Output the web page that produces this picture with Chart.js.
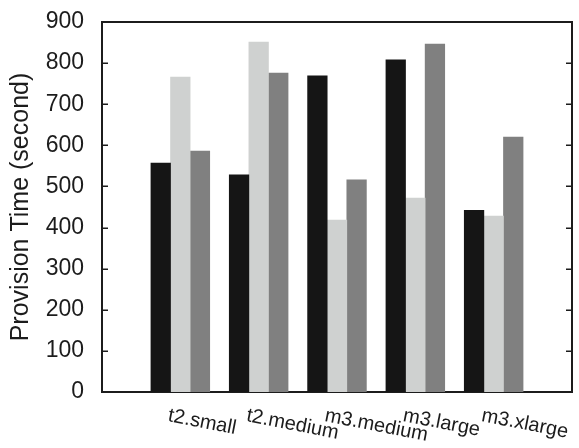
<!DOCTYPE html>
<html>
<head>
<meta charset="utf-8">
<script src="https://cdn.jsdelivr.net/npm/chart.js@4/dist/chart.umd.min.js"></script>
<style>
  html, body { margin: 0; padding: 0; background: #fff; }
  #wrap { width: 579px; height: 448px; }
</style>
</head>
<body>
<div id="wrap"><canvas id="c" width="579" height="448"></canvas></div>
<script>
// Instance types and provision times (seconds) for three runs
const categories = ['t2.small', 't2.medium', 'm3.medium', 'm3.large', 'm3.xlarge'];
const seriesA = [557, 528, 769, 808, 442];
const seriesB = [766, 851, 418, 472, 428];
const seriesC = [586, 776, 516, 846, 620];
const yTicks = [0, 100, 200, 300, 400, 500, 600, 700, 800, 900];

const FONT = 'Liberation Sans, Arial, Helvetica, sans-serif';
const INK = '#1c1c1c';

// one empty slot on each side of the groups
const labels = ['', ...categories, ''];
const pad = v => [null, ...v, null];

// slanted category labels under the axis
const slantLabels = {
  id: 'slantLabels',
  afterDraw(chart) {
    const xs = chart.scales.x;
    const ctx = chart.ctx;
    ctx.save();
    ctx.font = '20px ' + FONT;
    ctx.fillStyle = INK;
    ctx.textAlign = 'left';
    ctx.textBaseline = 'alphabetic';
    categories.forEach((name, i) => {
      const px = xs.getPixelForValue(i + 1);
      ctx.save();
      ctx.translate(px - 13, xs.top + 29);
      ctx.rotate(11 * Math.PI / 180);
      ctx.fillText(name, 0, 0);
      ctx.restore();
    });
    ctx.restore();
  }
};

// short tick marks pointing into the plot on both vertical sides
const innerTicks = {
  id: 'innerTicks',
  afterDraw(chart) {
    const ys = chart.scales.y;
    const area = chart.chartArea;
    const ctx = chart.ctx;
    ctx.save();
    ctx.strokeStyle = INK;
    ctx.lineWidth = 1.5;
    ctx.beginPath();
    yTicks.slice(1, -1).forEach(v => {
      const py = Math.round(ys.getPixelForValue(v)) + 0.25;
      ctx.moveTo(area.left, py);
      ctx.lineTo(area.left + 6, py);
      ctx.moveTo(area.right, py);
      ctx.lineTo(area.right - 6, py);
    });
    ctx.stroke();
    ctx.restore();
  }
};

const whiteBg = {
  id: 'whiteBg',
  beforeDraw(chart) {
    const ctx = chart.ctx;
    ctx.save();
    ctx.fillStyle = '#fff';
    ctx.fillRect(0, 0, chart.width, chart.height);
    ctx.restore();
  }
};

const frameBorder = { display: true, color: INK, width: 2 };
const yRange = { min: yTicks[0], max: yTicks[yTicks.length - 1] };

new Chart(document.getElementById('c'), {
  type: 'bar',
  data: {
    labels,
    datasets: [
      { data: pad(seriesA), backgroundColor: '#151515' },
      { data: pad(seriesB), backgroundColor: '#cfd1d0' },
      { data: pad(seriesC), backgroundColor: '#808080' }
    ]
  },
  options: {
    responsive: false,
    animation: false,
    devicePixelRatio: 1,
    layout: { padding: 0 },
    datasets: { bar: { barThickness: 19.6, borderWidth: 0 } },
    plugins: { legend: { display: false }, tooltip: { enabled: false } },
    scales: {
      x: {
        position: 'bottom',
        offset: false,
        grid: { display: false },
        border: frameBorder,
        ticks: { display: false },
        afterFit(s) { s.height = 56; s.paddingLeft = 0; s.paddingRight = 0; }
      },
      x2: {
        type: 'category',
        position: 'top',
        offset: false,
        grid: { display: false },
        border: frameBorder,
        ticks: { display: false },
        afterFit(s) { s.height = 22; s.paddingLeft = 0; s.paddingRight = 0; }
      },
      y: {
        position: 'left',
        ...yRange,
        border: frameBorder,
        grid: { display: false },
        ticks: {
          stepSize: 100,
          padding: 10,
          color: INK,
          font: { family: FONT, size: 23 }
        },
        title: {
          display: true,
          text: 'Provision Time (second)',
          color: INK,
          font: { family: FONT, size: 25 },
          padding: { top: 6, bottom: 0 }
        },
        afterFit(s) { s.width = 102; s.paddingTop = 0; s.paddingBottom = 0; }
      },
      y2: {
        position: 'right',
        ...yRange,
        border: frameBorder,
        grid: { display: false },
        ticks: { display: false, stepSize: 100 },
        afterFit(s) { s.width = 7; s.paddingTop = 0; s.paddingBottom = 0; }
      }
    }
  },
  plugins: [whiteBg, innerTicks, slantLabels]
});
</script>
</body>
</html>
